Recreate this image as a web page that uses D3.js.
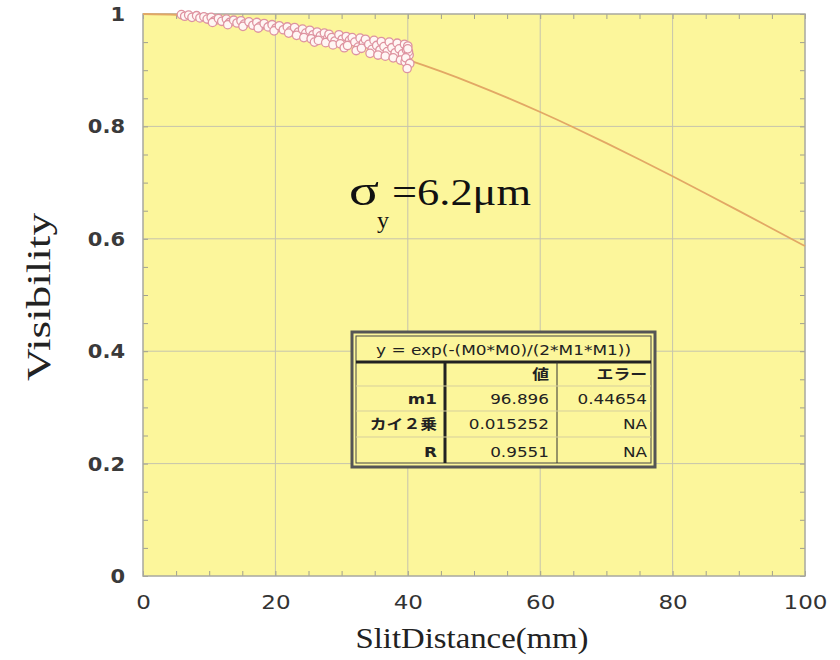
<!DOCTYPE html>
<html><head><meta charset="utf-8">
<script src="https://cdn.jsdelivr.net/npm/d3@7"></script>
<style>body{margin:0;background:#fff;} svg{display:block;}</style>
</head><body>
<svg id="chart" width="840" height="660"></svg>
<script>
// ---- data ----
const xTicks = [0, 20, 40, 60, 80, 100];
const yTicks = [0, 0.2, 0.4, 0.6, 0.8, 1];
const yTickLabels = ["0", "0.2", "0.4", "0.6", "0.8", "1"];
const dataX = [5.8,6.3,6.9,7.4,8.1,8.6,9.2,9.7,10.3,10.8,10.5,11.4,11.9,12.6,13.1,12.8,13.7,14.2,14.8,15.3,15.1,16.0,16.6,17.2,17.7,17.4,18.3,18.9,19.5,20.1,19.8,20.6,21.2,21.8,22.3,22.0,22.9,23.5,23.2,24.1,24.6,24.3,25.2,25.7,25.4,25.9,26.3,26.8,26.5,27.4,27.9,27.6,28.1,28.5,29.0,28.7,29.6,30.1,29.8,30.4,30.7,31.2,30.9,31.6,32.0,32.5,32.2,32.8,33.3,33.0,33.6,34.1,34.6,34.3,34.9,35.3,35.8,35.5,36.0,36.4,36.9,36.6,37.2,37.6,38.1,37.8,38.4,38.7,39.2,38.9,39.5,39.8,40.2,39.6,40.0,40.1,39.7,40.3,39.9,40.0];
const dataY = [0.999,0.996,0.998,0.994,0.997,0.993,0.995,0.991,0.994,0.988,0.985,0.992,0.987,0.991,0.985,0.981,0.989,0.984,0.988,0.982,0.978,0.986,0.980,0.985,0.978,0.975,0.983,0.977,0.981,0.975,0.970,0.979,0.972,0.977,0.970,0.966,0.976,0.968,0.962,0.973,0.966,0.958,0.971,0.963,0.956,0.950,0.968,0.961,0.953,0.966,0.957,0.949,0.964,0.958,0.952,0.945,0.963,0.955,0.947,0.940,0.960,0.953,0.944,0.958,0.950,0.941,0.935,0.957,0.948,0.939,0.955,0.946,0.937,0.930,0.953,0.944,0.936,0.927,0.951,0.942,0.933,0.925,0.950,0.940,0.931,0.922,0.948,0.938,0.929,0.918,0.946,0.936,0.927,0.915,0.943,0.933,0.922,0.912,0.903,0.938];
// fitted curve y = exp(-(x*x)/(2*m1*m1)), m1 = 96.896, sampled values
const fitX = [0,5,10,15,20,25,30,35,40,45,50,55,60,65,70,75,80,85,90,95,100];
const fitY = [1,0.99867,0.99469,0.98809,0.97892,0.96726,0.95320,0.93684,0.91832,0.89777,0.87535,0.85121,0.82554,0.79852,0.77032,0.74115,0.71118,0.68061,0.64962,0.61839,0.58710];
const tableHeader = "y = exp(-(M0*M0)/(2*M1*M1))";
const tableCols = ["", "値", "エラー"];
const tableRows = [["m1", "96.896", "0.44654"], ["カイ２乗", "0.015252", "NA"], ["R", "0.9551", "NA"]];

// ---- helpers ----
function stretch(sel, k) {
  sel.each(function () {
    const w = this.getComputedTextLength();
    d3.select(this).attr("textLength", w * k).attr("lengthAdjust", "spacingAndGlyphs");
  });
}

// ---- layout ----
const svg = d3.select("#chart");
const L = 143, R = 805, T = 14, B = 576;
const x = d3.scaleLinear().domain([0, 100]).range([L, R]);
const y = d3.scaleLinear().domain([0, 1]).range([B, T]);

svg.append("rect").attr("x", L).attr("y", T).attr("width", R - L).attr("height", B - T)
  .attr("fill", "#fcf69b");

// grid
const grid = svg.append("g").attr("stroke", "#c6c4ad").attr("stroke-width", 1);
grid.selectAll(".gx").data(xTicks.slice(1, -1)).join("line")
  .attr("x1", d => x(d)).attr("x2", d => x(d)).attr("y1", T).attr("y2", B);
grid.selectAll(".gy").data(yTicks.slice(1, -1)).join("line")
  .attr("y1", d => y(d)).attr("y2", d => y(d)).attr("x1", L).attr("x2", R);

// minor ticks (inside)
const minorX = d3.range(0, 101, 5);
const minorY = d3.range(0, 1.0001, 0.05);
const axStyle = g => { g.select(".domain").remove(); g.selectAll("line").attr("stroke", "#a0a090"); g.selectAll("text").remove(); };
svg.append("g").attr("transform", `translate(0,${B})`).call(d3.axisBottom(x).tickValues(minorX).tickSize(-5)).call(axStyle);
svg.append("g").attr("transform", `translate(0,${T})`).call(d3.axisTop(x).tickValues(minorX).tickSize(-5)).call(axStyle);
svg.append("g").attr("transform", `translate(${L},0)`).call(d3.axisLeft(y).tickValues(minorY).tickSize(-5)).call(axStyle);
svg.append("g").attr("transform", `translate(${R},0)`).call(d3.axisRight(y).tickValues(minorY).tickSize(-5)).call(axStyle);

// tick labels
const tickFont = "DejaVu Sans, sans-serif";
const xa = svg.append("g").attr("transform", `translate(0,${B})`)
  .call(d3.axisBottom(x).tickValues(xTicks).tickSize(0).tickPadding(19).tickFormat(d3.format("d")));
xa.select(".domain").remove();
xa.selectAll("text").attr("font-family", tickFont).attr("font-size", 20).attr("fill", "#333");
stretch(xa.selectAll("text"), 1.15);
const ya = svg.append("g").attr("transform", `translate(${L},0)`)
  .call(d3.axisLeft(y).tickValues(yTicks).tickSize(0).tickPadding(18).tickFormat((d, i) => yTickLabels[i]));
ya.select(".domain").remove();
ya.selectAll("text").attr("font-family", tickFont).attr("font-size", 20).attr("fill", "#3a3a3a").attr("font-weight", "bold");
stretch(ya.selectAll("text"), 1.05);

// frame
svg.append("rect").attr("x", L).attr("y", T).attr("width", R - L).attr("height", B - T)
  .attr("fill", "none").attr("stroke", "#a8a8a0").attr("stroke-width", 1.5);

// fit line
const line = d3.line().x((d, i) => x(fitX[i])).y((d, i) => y(fitY[i])).curve(d3.curveMonotoneX);
svg.append("path").datum(fitX).attr("d", line).attr("fill", "none")
  .attr("stroke", "#e2a865").attr("stroke-width", 1.8);

// data points
svg.append("g").selectAll("circle").data(dataX).join("circle")
  .attr("cx", d => x(d)).attr("cy", (d, i) => y(dataY[i])).attr("r", 4.2)
  .attr("fill", "#fff6f4").attr("stroke", "#de93a0").attr("stroke-width", 1.3);

// axis titles
const serif = "Liberation Serif, Times New Roman, serif";
svg.append("text").attr("x", 472).attr("y", 648).attr("text-anchor", "middle")
  .attr("font-family", serif).attr("font-size", 30).attr("fill", "#222")
  .attr("textLength", 233).attr("lengthAdjust", "spacingAndGlyphs")
  .text("SlitDistance(mm)");
svg.append("text").attr("transform", "translate(50,297) rotate(-90)").attr("text-anchor", "middle")
  .attr("font-family", serif).attr("font-size", 33).attr("fill", "#222")
  .attr("textLength", 168).attr("lengthAdjust", "spacingAndGlyphs")
  .text("Visibility");

// annotation
const ann = svg.append("g").attr("font-family", serif).attr("fill", "#111");
ann.append("text").attr("x", 349).attr("y", 205).attr("font-size", 44)
  .attr("textLength", 30).attr("lengthAdjust", "spacingAndGlyphs").text("σ");
ann.append("text").attr("x", 377).attr("y", 228).attr("font-size", 24).text("y");
ann.append("text").attr("x", 392).attr("y", 205).attr("font-size", 38)
  .attr("textLength", 139).attr("lengthAdjust", "spacingAndGlyphs").text("=6.2μm");

// table
const tx0 = 352, tx1 = 655, ty0 = 332, ty1 = 467;
const colX = [tx0, 445, 557, tx1];
const rowY = [362, 386, 411, 437, ty1];
const tb = svg.append("g");
tb.append("rect").attr("x", tx0).attr("y", ty0).attr("width", tx1 - tx0).attr("height", ty1 - ty0)
  .attr("fill", "#fcf69b").attr("stroke", "#555").attr("stroke-width", 3);
tb.append("rect").attr("x", tx0 + 4).attr("y", ty0 + 4).attr("width", tx1 - tx0 - 8).attr("height", ty1 - ty0 - 8)
  .attr("fill", "none").attr("stroke", "#444").attr("stroke-width", 1);
tb.append("line").attr("x1", tx0 + 4).attr("x2", tx1 - 4).attr("y1", rowY[0]).attr("y2", rowY[0]).attr("stroke", "#222").attr("stroke-width", 3);
tb.append("line").attr("x1", colX[1]).attr("x2", colX[1]).attr("y1", rowY[0]).attr("y2", ty1 - 4).attr("stroke", "#222").attr("stroke-width", 3);
tb.append("line").attr("x1", colX[2]).attr("x2", colX[2]).attr("y1", rowY[0]).attr("y2", ty1 - 4).attr("stroke", "#333").attr("stroke-width", 1);
tb.selectAll(".rl").data(rowY.slice(1, -1)).join("line")
  .attr("x1", tx0 + 4).attr("x2", tx1 - 4).attr("y1", d => d).attr("y2", d => d).attr("stroke", "#d6cf9c").attr("stroke-width", 1);
const tf = "DejaVu Sans, Noto Sans CJK JP, sans-serif";
const hdr = tb.append("text").attr("x", (tx0 + tx1) / 2).attr("y", 355).attr("text-anchor", "middle")
  .attr("font-family", tf).attr("font-size", 13.5).attr("fill", "#222").text(tableHeader);
hdr.attr("textLength", 255).attr("lengthAdjust", "spacingAndGlyphs");
const allRows = [tableCols].concat(tableRows);
allRows.forEach((row, r) => {
  row.forEach((cell, c) => {
    if (!cell) return;
    const t = tb.append("text").attr("x", colX[c + 1] - 8).attr("y", (rowY[r] + rowY[r + 1]) / 2 + 5)
      .attr("text-anchor", "end").attr("font-family", tf).attr("font-size", 14)
      .attr("font-weight", c === 0 || r === 0 ? "bold" : "normal").attr("fill", "#222").text(cell);
    stretch(t, 1.2);
  });
});
</script>
</body></html>
